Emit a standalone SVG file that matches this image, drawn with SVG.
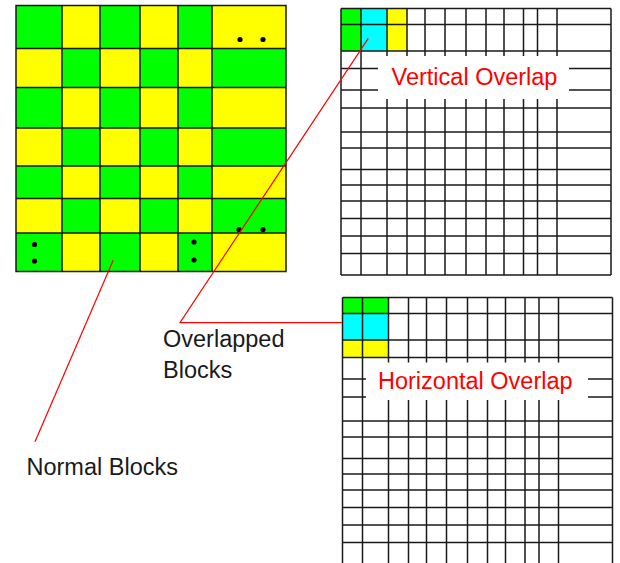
<svg xmlns="http://www.w3.org/2000/svg" xmlns:xlink="http://www.w3.org/1999/xlink" width="620" height="563" viewBox="0 0 620 563">
<style>
.g{fill:#00ff00}
.y{fill:#ffff00}
.c{fill:#00ffff}
.ln{fill:none;stroke:#1a1a1a;stroke-width:1.5}
.dot{fill:#000}
.mask{fill:#fff}
.lbl{font-family:"Liberation Sans",Arial,sans-serif;font-size:23.5px;fill:#1a1a1a}
.rlbl{font-family:"Liberation Sans",Arial,sans-serif;font-size:23.5px;fill:#ff0000;text-anchor:middle}
.conn{fill:none;stroke:#ff0000;stroke-width:1.2}
</style>
<defs>
<path id="gridlines" class="ln" d="M341 8.5V275M361 8.5V275M387 8.5V275M407 8.5V275M425 8.5V275M445 8.5V275M466 8.5V275M486 8.5V275M504 8.5V275M523.5 8.5V275M537.5 8.5V275M557 8.5V275M611 8.5V275M341 8.5H611M341 24.5H611M341 51H611M341 68.5H611M341 90H611M341 108H611M341 132H611M341 148H611M341 169.5H611M341 185H611M341 201H611M341 218.5H611M341 236H611M341 253.5H611M341 275H611"/>
</defs>
<rect width="620" height="563" fill="#fff"/>

<g id="normal-blocks-board">
<rect class="g" x="16" y="5.5" width="46" height="43"/>
<rect class="y" x="62" y="5.5" width="38" height="43"/>
<rect class="g" x="100" y="5.5" width="40" height="43"/>
<rect class="y" x="140" y="5.5" width="38" height="43"/>
<rect class="g" x="178" y="5.5" width="34" height="43"/>
<rect class="y" x="212" y="5.5" width="74" height="43"/>
<rect class="y" x="16" y="48.5" width="46" height="39"/>
<rect class="g" x="62" y="48.5" width="38" height="39"/>
<rect class="y" x="100" y="48.5" width="40" height="39"/>
<rect class="g" x="140" y="48.5" width="38" height="39"/>
<rect class="y" x="178" y="48.5" width="34" height="39"/>
<rect class="g" x="212" y="48.5" width="74" height="39"/>
<rect class="g" x="16" y="87.5" width="46" height="40.5"/>
<rect class="y" x="62" y="87.5" width="38" height="40.5"/>
<rect class="g" x="100" y="87.5" width="40" height="40.5"/>
<rect class="y" x="140" y="87.5" width="38" height="40.5"/>
<rect class="g" x="178" y="87.5" width="34" height="40.5"/>
<rect class="y" x="212" y="87.5" width="74" height="40.5"/>
<rect class="y" x="16" y="128" width="46" height="38"/>
<rect class="g" x="62" y="128" width="38" height="38"/>
<rect class="y" x="100" y="128" width="40" height="38"/>
<rect class="g" x="140" y="128" width="38" height="38"/>
<rect class="y" x="178" y="128" width="34" height="38"/>
<rect class="g" x="212" y="128" width="74" height="38"/>
<rect class="g" x="16" y="166" width="46" height="32.5"/>
<rect class="y" x="62" y="166" width="38" height="32.5"/>
<rect class="g" x="100" y="166" width="40" height="32.5"/>
<rect class="y" x="140" y="166" width="38" height="32.5"/>
<rect class="g" x="178" y="166" width="34" height="32.5"/>
<rect class="y" x="212" y="166" width="74" height="32.5"/>
<rect class="y" x="16" y="198.5" width="46" height="34.5"/>
<rect class="g" x="62" y="198.5" width="38" height="34.5"/>
<rect class="y" x="100" y="198.5" width="40" height="34.5"/>
<rect class="g" x="140" y="198.5" width="38" height="34.5"/>
<rect class="y" x="178" y="198.5" width="34" height="34.5"/>
<rect class="g" x="212" y="198.5" width="74" height="34.5"/>
<rect class="g" x="16" y="233" width="46" height="38.5"/>
<rect class="y" x="62" y="233" width="38" height="38.5"/>
<rect class="g" x="100" y="233" width="40" height="38.5"/>
<rect class="y" x="140" y="233" width="38" height="38.5"/>
<rect class="g" x="178" y="233" width="34" height="38.5"/>
<rect class="y" x="212" y="233" width="74" height="38.5"/>
<path class="ln" d="M16 5.5H286V271.5H16ZM62 5.5V271.5M100 5.5V271.5M140 5.5V271.5M178 5.5V271.5M212 5.5V271.5M16 48.5H286M16 87.5H286M16 128H286M16 166H286M16 198.5H286M16 233H286"/>
<circle class="dot" cx="240" cy="39.5" r="2.6"/>
<circle class="dot" cx="263" cy="39.5" r="2.6"/>
<circle class="dot" cx="239" cy="229.5" r="2.6"/>
<circle class="dot" cx="263" cy="229.5" r="2.6"/>
<circle class="dot" cx="34.5" cy="244.5" r="2.6"/>
<circle class="dot" cx="34.5" cy="261" r="2.6"/>
<circle class="dot" cx="194" cy="242" r="2.6"/>
<circle class="dot" cx="194" cy="260" r="2.6"/>
</g>

<g id="vertical-overlap-grid">
<rect class="g" x="341" y="8.5" width="20" height="42.5"/>
<rect class="c" x="361" y="8.5" width="26" height="42.5"/>
<rect class="y" x="387" y="8.5" width="20" height="42.5"/>
<use xlink:href="#gridlines" href="#gridlines"/>
<rect class="mask" x="378" y="56" width="191" height="43"/>
<text class="rlbl" x="474.5" y="84.5">Vertical Overlap</text>
</g>

<g id="horizontal-overlap-grid">
<rect class="g" x="342.5" y="297.5" width="46" height="16"/>
<rect class="c" x="342.5" y="313.5" width="46" height="26.5"/>
<rect class="y" x="342.5" y="340" width="46" height="17.5"/>
<use xlink:href="#gridlines" href="#gridlines" transform="translate(1.5,289)"/>
<rect class="mask" x="366" y="362.5" width="222" height="37.5"/>
<text class="rlbl" x="475.3" y="388.5">Horizontal Overlap</text>
</g>

<g id="overlapped-blocks-label">
<text class="lbl" x="163" y="346.7">Overlapped</text>
<text class="lbl" x="163" y="378.3">Blocks</text>
</g>

<g id="normal-blocks-label">
<text class="lbl" x="26.5" y="475">Normal Blocks</text>
</g>

<g id="connectors">
<path class="conn" d="M113.3 260L35 441.7"/>
<path class="conn" d="M368.3 38.3L180 322.6H342"/>
</g>
</svg>
